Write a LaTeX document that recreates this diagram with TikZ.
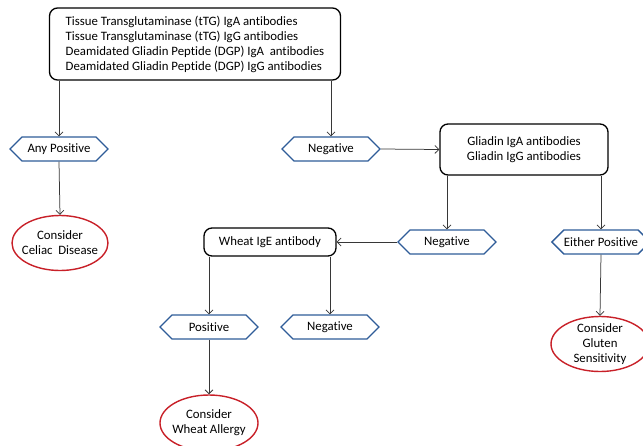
\documentclass[tikz,border=0pt]{standalone}
\usepackage{fontspec}
\setmainfont[Ligatures={NoCommon}]{Carlito}
\usetikzlibrary{shapes.symbols,shapes.geometric,arrows.meta}
\definecolor{hexblue}{RGB}{46,92,152}
\definecolor{ellred}{RGB}{200,32,40}
\definecolor{arrgray}{RGB}{55,55,55}
\tikzset{
  boxnode/.style={draw=black, line width=1.3pt, rounded corners=8pt, align=center, font=\fontsize{12.8}{15}\selectfont, inner sep=0pt},
  hexnode/.style={draw=hexblue, line width=1.3pt, signal, signal to=west and east, signal pointer angle=90, minimum width=98pt, minimum height=24pt, inner sep=0pt, font=\fontsize{12.8}{15}\selectfont},
  ellnode/.style={draw=ellred, line width=1.4pt, ellipse, align=center, inner xsep=-7pt, inner ysep=-5pt, font=\fontsize{12.8}{15}\selectfont},
  arr/.style={draw=arrgray, line width=0.75pt, -{Straight Barb[length=4pt,width=8pt]}}
}
\begin{document}
\begin{tikzpicture}[x=1pt,y=-1pt]
\useasboundingbox (0,0) rectangle (643,445);
\clip (0,0) rectangle (643,445);
% top box
\node[boxnode, minimum width=291pt, minimum height=72pt, align=left] (top) at (195,44)
 {Tissue Transglutaminase (tTG) IgA antibodies\\Tissue Transglutaminase (tTG) IgG antibodies\\Deamidated Gliadin Peptide (DGP) IgA\ \ antibodies\\Deamidated Gliadin Peptide (DGP) IgG antibodies};
\node[hexnode] (anyp) at (59,149) {Any Positive};
\node[ellnode, minimum width=96pt, minimum height=55pt] (celiac) at (60,243) {Consider\\Celiac\ \ Disease};
\node[hexnode] (neg1) at (331,149) {Negative};
\node[boxnode, minimum width=168pt, minimum height=51pt] (gliadin) at (524,149.5) {Gliadin IgA antibodies\\Gliadin IgG antibodies};
\node[hexnode] (neg2) at (447,242) {Negative};
\node[hexnode] (either) at (601,242) {Either Positive};
\node[ellnode, minimum width=98pt, minimum height=55pt] (gluten) at (600,344) {Consider\\Gluten\\Sensitivity};
\node[boxnode, minimum width=132pt, minimum height=28pt] (wheat) at (270,242) {Wheat IgE antibody};
\node[hexnode] (pos) at (209,327) {Positive};
\node[hexnode] (neg3) at (330,327) {Negative};
\node[ellnode, minimum width=98pt, minimum height=56pt] (allergy) at (209,423) {Consider\\Wheat Allergy};
% connectors
\draw[arr] (top.south -| anyp.north) -- (anyp.north);
\draw[arr] (top.south -| neg1.north) -- (neg1.north);
\draw[arr] (anyp.south) -- (celiac.north);
\draw[arr] (neg1.east) -- (gliadin.west);
\draw[arr] (gliadin.south -| neg2.north) -- (neg2.north);
\draw[arr] (gliadin.south -| either.north) -- (either.north);
\draw[arr] (neg2.west) -- (wheat.east);
\draw[arr] (wheat.south -| pos.north) -- (pos.north);
\draw[arr] (wheat.south -| neg3.north) -- (neg3.north);
\draw[arr] (pos.south) -- (allergy.north);
\draw[arr] (either.south) -- (gluten.north);
\end{tikzpicture}
\end{document}
